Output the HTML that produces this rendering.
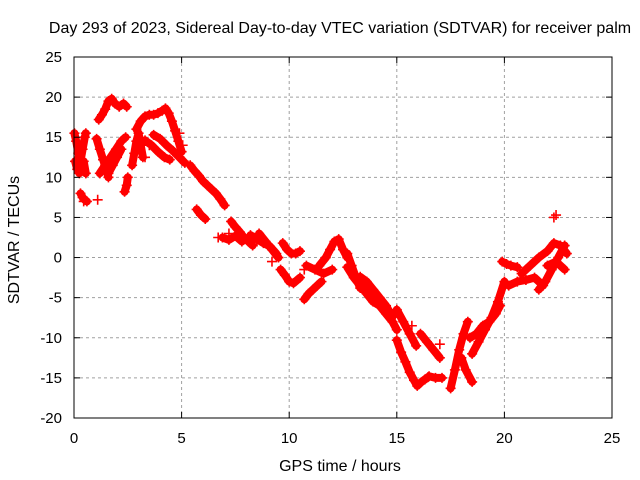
<!DOCTYPE html>
<html><head><meta charset="utf-8"><style>
body{margin:0;background:#fff}
svg{display:block;font-family:"Liberation Sans",sans-serif}
</style></head><body>
<svg id="chart" width="640" height="480">
<rect width="640" height="480" fill="#fff"/>
<g id="grid"></g>
<g id="series"></g>
<rect x="74" y="57" width="538" height="361" fill="none" stroke="#000" stroke-width="1"/>
<g id="ticks"></g>
<text x="340" y="33" font-size="16" text-anchor="middle">Day 293 of 2023, Sidereal Day-to-day VTEC variation (SDTVAR) for receiver palm</text>
<text x="340" y="471" font-size="16" text-anchor="middle">GPS time / hours</text>
<text x="19" y="240" font-size="16" text-anchor="middle" transform="rotate(-90 19 240)">SDTVAR / TECUs</text>
</svg>
<script>
const xTicks=[0,5,10,15,20,25];
const yTicks=[-20,-15,-10,-5,0,5,10,15,20,25];
const trackHours=[
[0.02,0.1,0.2,0.3,0.4,0.5,0.55],[0.05,0.15,0.25,0.35,0.45,0.55],[0.3,0.4,0.5,0.6],
[1.05,1.2,1.35,1.5,1.6],[1.2,1.45,1.7,1.95,2.2,2.4],[1.6,1.8,2.0,2.2],
[1.15,1.3,1.45,1.6,1.75,1.9,2.1,2.3,2.45],[2.35,2.45,2.5],[2.7,2.8,2.9,3.0,3.1,3.2],
[2.9,3.1,3.3,3.5,3.7,3.9,4.1,4.25,4.4,4.55,4.7,4.85,5.0],[3.0,3.3,3.6,3.9,4.2,4.45],
[3.7,4.0,4.3,4.6,4.9,5.15],[5.4,5.6,5.8,6.0,6.2,6.4,6.6,6.8,7.0],[5.7,5.9,6.1],
[7.3,7.5,7.7,7.9,8.1,8.3],[6.9,7.2,7.5,7.8],[8.2,8.5,8.8,9.1,9.4],[8.6,8.9,9.2,9.5],
[9.7,9.9,10.1,10.3,10.5],[9.6,9.8,10,10.2,10.5],[10.7,10.9,11.1,11.3,11.5],
[10.8,11.2,11.6,12.0],[11.4,11.7,11.9,12.1,12.3,12.5,12.7],[12.7,12.9,13.1,13.3],
[12.7,13.0,13.3,13.6,13.9,14.2,14.5,14.8,15.0],[13.3,13.6,13.9,14.2,14.5,14.8],
[15.0,15.3,15.6,15.9],[15.0,15.2,15.4,15.6,15.8,15.95,16.1,16.3,16.45],[16.5,16.8,17.1],
[16.1,16.4,16.7,17.0],[17.5,17.7,17.9,18.1,18.3],[18.0,18.2,18.5],
[18.5,18.8,19.1,19.4,19.7,20.0],[18.4,18.7,19.0,19.3,19.6,19.8],[19.9,20.1,20.3,20.6],
[20.2,20.6,21.0,21.4,21.8],[20.8,21.2,21.6,22.0,22.3,22.6,22.9],[21.6,21.9,22.2,22.5,22.8],
[22.0,22.4,22.8]];
const trackValues=[
[15.5,14.5,13,12,13.5,15,15.5],[12,11,10.5,11,12,10.5],[8,7.5,7.2,7],
[14.8,13.5,12.2,11,10],[10.5,11.5,12.5,13.5,14.5,15],[10.5,11.5,12.5,13.5],
[17.2,17.8,18.5,19.5,19.8,19.2,18.8,19.2,18.8],[8.2,9,10],[11.5,13,14.5,15.5,14,12.5],
[16,17,17.6,17.8,17.8,18,18.3,18.6,18,17,15.8,14.5,13.2],[14,14.6,14,13.2,12.5,12.2],
[15.3,14.8,14,13.3,12.5,11.8],[11.5,10.8,10.2,9.5,9,8.5,8,7.3,6.5],[6,5.3,4.8],
[4.5,3.8,3.2,2.5,2,1.5],[2.5,2.2,2.7,2],[2.8,2.3,1.8,1.4,0.5],[3,2,1,0],
[1.8,1,0.5,0.5,0.8],[-1.5,-2.2,-3,-3.2,-2.5],[-5.2,-4.5,-4,-3.5,-3],
[-1,-1.5,-2,-1.5],[-1,0,1,2,2.3,1,0],[0.5,-1,-2.5,-3.8],
[-1.2,-2.5,-3.5,-4.5,-5.5,-6,-7,-8,-9],[-2.4,-3,-4,-5,-6,-7.4],
[-6.5,-8,-9.5,-11],[-10.3,-11.8,-13,-14.3,-15.3,-16,-15.6,-15.2,-14.9],[-14.8,-15,-15],
[-9.5,-10.5,-11.5,-12.5],[-16.3,-14,-11.5,-9.5,-8],[-12.5,-14,-15.5],
[-12,-10.5,-9,-7.5,-5.5,-3],[-10,-9.5,-8.5,-8,-7,-6],[-0.5,-0.8,-1,-1.2],
[-3.5,-3,-2.8,-2.5,-3.5],[-2,-1,0,0.8,1.8,1.5,0.5],[-4,-3,-1.5,0,1.5],
[-1,-0.5,-1.5]];
const scatterHours=[3.3,3.5,4.9,5.05,5.1,6.7,7.2,8.5,9.2,10.7,15.7,17.0,22.3,22.4,1.1,0.45];
const scatterValues=[12.5,14,15.5,14,12,2.5,3,2,-0.5,-1.5,-8.5,-10.8,5,5.3,7.2,7];

const NS="http://www.w3.org/2000/svg";
const X0=74,X1=612,Y0=418,Y1=57;
function sx(h){return X0+(h-0)/(25-0)*(X1-X0);}
function sy(v){return Y0-(v-(-20))/(25-(-20))*(Y0-Y1);}
function mk(tag,attrs,parent){const e=document.createElementNS(NS,tag);for(const k in attrs)e.setAttribute(k,attrs[k]);parent.appendChild(e);return e;}
const grid=document.getElementById('grid'),ticks=document.getElementById('ticks'),series=document.getElementById('series');
xTicks.forEach(t=>{
  const x=sx(t);
  if(t>0&&t<25){const g=mk('line',{x1:x,x2:x,y1:Y1,y2:Y0,stroke:'#a0a0a0','stroke-dasharray':'3,3'},grid);
  
  }
  mk('line',{x1:x,x2:x,y1:Y0,y2:Y0-6,stroke:'#000'},ticks);
  mk('line',{x1:x,x2:x,y1:Y1,y2:Y1+6,stroke:'#000'},ticks);
  const l=mk('text',{x:x,y:Y0+25,'font-size':15,'text-anchor':'middle'},ticks);l.textContent=t;
  
  
});
yTicks.forEach(t=>{
  const y=sy(t);
  if(t>-20&&t<25){const g=mk('line',{x1:X0,x2:X1,y1:y,y2:y,stroke:'#a0a0a0','stroke-dasharray':'3,3'},grid);
  
  }
  mk('line',{x1:X0,x2:X0+6,y1:y,y2:y,stroke:'#000'},ticks);
  mk('line',{x1:X1,x2:X1-6,y1:y,y2:y,stroke:'#000'},ticks);
  const l=mk('text',{x:X0-12,y:y+5,'font-size':15,'text-anchor':'end'},ticks);l.textContent=t;
  
  
});
function plus(h,v){
  const x=sx(h),y=sy(v);
  const p=mk('path',{d:`M${x-5},${y}H${x+5}M${x},${y-5}V${y+5}`,stroke:'#f00','stroke-width':1.6,fill:'none'},series);
  
  
}
trackHours.forEach((hs,i)=>{
  const vs=trackValues[i];
  const pts=hs.map((h,j)=>sx(h).toFixed(1)+','+sy(vs[j]).toFixed(1)).join(' ');
  const pl=mk('polyline',{points:pts,stroke:'#f00','stroke-width':8,fill:'none','stroke-linejoin':'round','stroke-linecap':'round'},series);
  
  
  hs.forEach((h,j)=>plus(h,vs[j]));
});
scatterHours.forEach((h,i)=>plus(h,scatterValues[i]));
</script>
</body></html>
